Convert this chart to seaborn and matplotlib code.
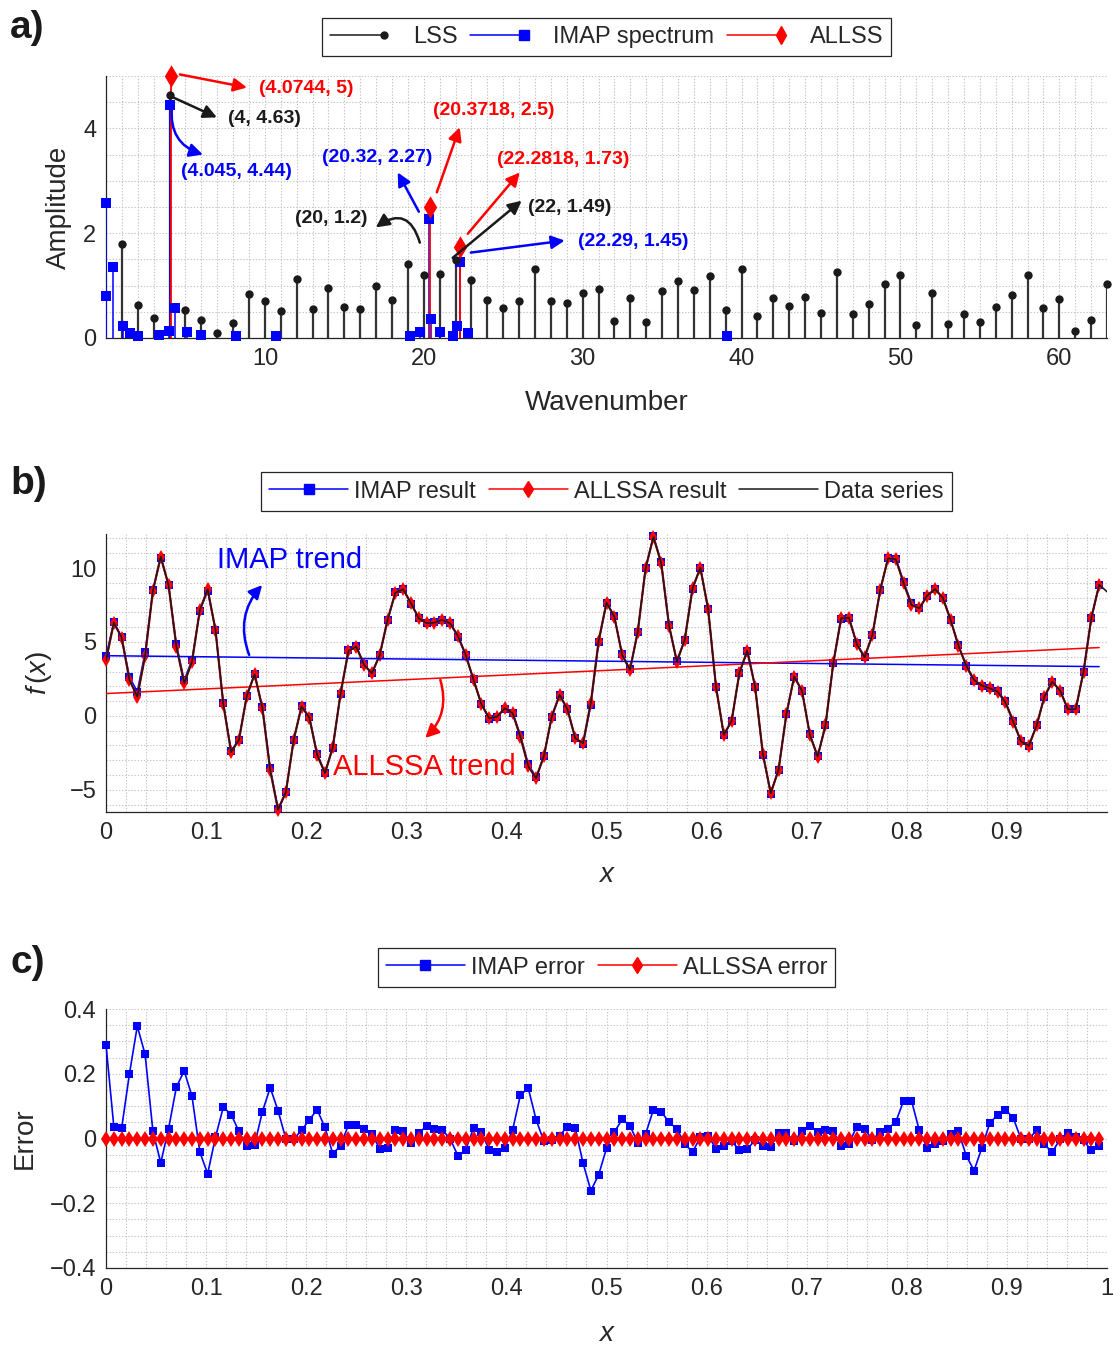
import numpy as np
import matplotlib
matplotlib.use("Agg")
import matplotlib.pyplot as plt
from matplotlib.lines import Line2D
from matplotlib.legend_handler import HandlerBase
from matplotlib.ticker import MultipleLocator, FixedLocator
import seaborn as sns

# ---------------- data ----------------
# panel a: spectra
lss_wavenumber = list(range(1, 64))
lss_amplitude = [1.79, 0.63, 0.38, 4.63, 0.54, 0.34, 0.09, 0.28, 0.84, 0.71,
                 0.52, 1.13, 0.55, 0.96, 0.60, 0.55, 0.99, 0.73, 1.41, 1.20,
                 1.22, 1.49, 1.11, 0.73, 0.58, 0.71, 1.32, 0.71, 0.66, 0.85,
                 0.94, 0.32, 0.76, 0.31, 0.89, 1.09, 0.92, 1.18, 0.54, 1.32,
                 0.42, 0.76, 0.62, 0.79, 0.47, 1.26, 0.45, 0.64, 1.03, 1.21,
                 0.25, 0.85, 0.26, 0.45, 0.30, 0.59, 0.83, 1.21, 0.57, 0.74,
                 0.14, 0.34, 1.03]
imap_wavenumber = [0.0, 0.02, 0.42, 1.09, 1.51, 2.03, 3.35, 3.98, 4.045, 4.36,
                   5.07, 5.97, 8.18, 10.7, 19.16, 19.75, 20.32, 20.46, 21.05,
                   21.84, 22.09, 22.29, 22.79, 39.1]
imap_amplitude = [2.58, 0.81, 1.35, 0.23, 0.09, 0.04, 0.06, 0.14, 4.44, 0.58,
                  0.11, 0.06, 0.04, 0.04, 0.04, 0.11, 2.27, 0.36, 0.11,
                  0.03, 0.22, 1.45, 0.09, 0.04]
allss_wavenumber = [4.0744, 20.3718, 22.2818]
allss_amplitude = [5.0, 2.5, 1.73]

# panel b: data series sampled at x = k/128 (plus the end point x = 1)
data_series = [3.75, 6.30, 5.30, 2.43, 1.30, 4.05, 8.47, 10.77, 8.83, 4.68,
               2.21, 3.67, 7.16, 8.56, 5.81, 0.79, -2.45, -1.62, 1.35, 2.82,
               0.52, -3.69, -6.35, -5.16, -1.62, 0.63, -0.11, -2.64, -3.87, -2.12,
               1.53, 4.39, 4.68, 3.45, 2.88, 4.12, 6.49, 8.33, 8.56, 7.61,
               6.60, 6.26, 6.30, 6.49, 6.26, 5.41, 4.12, 2.43, 0.79, -0.16,
               -0.05, 0.52, 0.18, -1.44, -3.42, -4.21, -2.70, -0.05, 1.42, 0.45,
               -1.51, -1.85, 0.90, 5.09, 7.66, 6.71, 4.12, 3.11, 5.70, 9.98,
               12.10, 10.32, 6.08, 3.67, 5.14, 8.63, 10.02, 7.21, 1.98, -1.28,
               -0.34, 2.93, 4.41, 1.98, -2.59, -5.23, -3.65, 0.11, 2.66, 1.69,
               -1.28, -2.75, -0.65, 3.56, 6.60, 6.64, 4.86, 3.96, 5.47, 8.51,
               10.65, 10.59, 8.96, 7.50, 7.27, 8.13, 8.58, 7.99, 6.49, 4.75,
               3.40, 2.43, 2.05, 1.87, 1.64, 0.92, -0.38, -1.73, -2.03, -0.65,
               1.31, 2.32, 1.71, 0.45, 0.45, 2.99, 6.64, 8.87]
data_series_end = 8.40

imap_error = [0.290, 0.037, 0.032, 0.200, 0.347, 0.260, 0.022, -0.075,
              0.030, 0.159, 0.209, 0.130, -0.042, -0.109, 0.004, 0.097,
              0.074, 0.022, -0.024, -0.019, 0.083, 0.157, 0.086, -0.001,
              -0.001, 0.025, 0.058, 0.089, 0.034, -0.047, -0.022, 0.042,
              0.042, 0.030, 0.014, -0.032, -0.028, 0.027, 0.022, -0.014,
              0.016, 0.040, 0.028, 0.027, -0.001, -0.053, -0.035, 0.033,
              0.020, -0.035, -0.042, -0.029, 0.027, 0.135, 0.155, 0.058,
              -0.009, -0.006, 0.009, 0.037, 0.033, -0.076, -0.161, -0.112,
              -0.030, 0.020, 0.059, 0.040, -0.014, 0.014, 0.089, 0.083,
              0.050, 0.030, -0.016, -0.042, 0.004, 0.009, -0.032, -0.024,
              -0.009, -0.035, -0.032, -0.006, -0.022, -0.025, 0.016, 0.016,
              -0.008, 0.022, 0.040, 0.020, 0.027, 0.023, -0.024, -0.016,
              0.037, 0.030, -0.004, 0.020, 0.030, 0.052, 0.117, 0.117,
              0.025, -0.030, -0.016, -0.008, 0.014, 0.022, -0.053, -0.099,
              -0.029, 0.047, 0.073, 0.089, 0.064, -0.001, -0.001, 0.025,
              -0.018, -0.043, -0.001, 0.017, 0.004, -0.006, -0.037, -0.024]
allssa_error = [0.0] * 128

trend_x = [0.0, 127 / 128]
imap_trend = [4.07, 3.33]
allssa_trend = [1.51, 4.62]

x_samples = np.arange(128) / 128.0
data_x = np.append(x_samples, 1.0)
data_y = np.append(np.array(data_series), data_series_end)
allssa_result = np.array(data_series) + np.array(allssa_error)
imap_result = np.array(data_series) + np.array(imap_error)

# ---------------- style ----------------
sns.set_theme(style="white")
plt.rcParams["font.family"] = ["Liberation Sans", "DejaVu Sans"]
plt.rcParams["mathtext.fontset"] = "custom"
plt.rcParams["mathtext.rm"] = "Liberation Sans"
plt.rcParams["mathtext.it"] = "Liberation Sans:italic"
plt.rcParams["axes.unicode_minus"] = True

BLUE = (0, 0, 1)
RED = (1, 0, 0)
SPINE = "#262626"
GRIDC = "#c4c4c4"
TICKFS = 17
LABFS = 20

fig = plt.figure(figsize=(11.14, 13.46), dpi=100)
W, H = 1114.0, 1346.0


def make_ax(top_px, bottom_px):
    return fig.add_axes([106 / W, 1 - bottom_px / H, 1001 / W, (bottom_px - top_px) / H])


def style_ax(ax):
    for s in ["top", "right"]:
        ax.spines[s].set_visible(False)
    for s in ["left", "bottom"]:
        ax.spines[s].set_color(SPINE)
        ax.spines[s].set_linewidth(0.9)
    ax.tick_params(which="major", direction="in", length=6, width=0.9,
                   color=SPINE, labelsize=TICKFS, labelcolor="#262626", pad=7)
    ax.tick_params(which="minor", length=0)
    ax.grid(which="both", color=GRIDC, linestyle=(0, (1.2, 1.6)), linewidth=0.8)
    ax.set_axisbelow(True)
    ax.set_facecolor("white")


class StemHandler(HandlerBase):
    def create_artists(self, legend, orig_handle, xdescent, ydescent,
                       width, height, fontsize, trans):
        xm = -xdescent + 0.71 * width
        y = (height - ydescent) / 2
        ln = Line2D([-xdescent, xm], [y, y], color=orig_handle.get_color(),
                    lw=orig_handle.get_linewidth(), transform=trans)
        mk = Line2D([xm], [y], ls="none", marker=orig_handle.get_marker(),
                    ms=orig_handle.get_markersize(), color=orig_handle.get_color(),
                    mec=orig_handle.get_color(), transform=trans)
        return [ln, mk]


def legend_box(ax, handles, labels, y_anchor, handler_map=None, tpad=0.25,
               cspace=0.55, hlen=3.35):
    leg = ax.legend(handles, labels, loc="lower center", bbox_to_anchor=(0.5, y_anchor),
                    ncol=len(handles), fontsize=17, frameon=True, fancybox=False,
                    edgecolor=SPINE, framealpha=1, handlelength=hlen,
                    handletextpad=tpad, columnspacing=cspace, borderpad=0.35,
                    borderaxespad=0, handler_map=handler_map)
    leg.get_frame().set_linewidth(0.9)
    return leg


# ---------------- panel a ----------------
axa = make_ax(76, 338)
style_ax(axa)
axa.vlines(lss_wavenumber, 0, lss_amplitude, color="#333333", lw=1.6, zorder=3)
axa.vlines(imap_wavenumber, 0, imap_amplitude, color=BLUE, lw=1.1, zorder=4)
axa.vlines(allss_wavenumber, 0, allss_amplitude, color=RED, lw=1.3, zorder=4)
sns.scatterplot(x=imap_wavenumber, y=imap_amplitude, ax=axa, marker="s", s=60,
                color=BLUE, edgecolor=BLUE, linewidth=0, zorder=5, clip_on=False)
sns.scatterplot(x=lss_wavenumber, y=lss_amplitude, ax=axa, marker="o", s=36,
                color="k", edgecolor="k", linewidth=0, zorder=6, clip_on=False)
sns.scatterplot(x=allss_wavenumber, y=allss_amplitude, ax=axa, marker="d", s=130,
                color=RED, edgecolor=RED, linewidth=0, zorder=7, clip_on=False)
axa.set_xlim(0, 63)
axa.set_ylim(0, 5)
axa.xaxis.set_major_locator(FixedLocator([10, 20, 30, 40, 50, 60]))
axa.xaxis.set_minor_locator(MultipleLocator(1))
axa.yaxis.set_major_locator(FixedLocator([0, 2, 4]))
axa.yaxis.set_minor_locator(MultipleLocator(0.5))
axa.set_xticklabels(["10", "20", "30", "40", "50", "60"])
axa.set_yticklabels(["0", "2", "4"])
axa.set_xlabel("Wavenumber", fontsize=LABFS, color="#262626")
axa.set_ylabel("Amplitude", fontsize=LABFS, color="#262626")
axa.xaxis.set_label_coords(0.5, -0.199)
axa.yaxis.set_label_coords(-0.034, 0.5)

arrow_kw = dict(arrowstyle="-|>", lw=1.8, mutation_scale=20, shrinkA=0, shrinkB=0)
annos = [
    # (start, end, color, connection)
    ((4.65, 5.03), (8.87, 4.78), RED, "arc3"),
    ((4.09, 4.61), (6.98, 4.21), "k", "arc3"),
    ((4.15, 4.40), (6.10, 3.50), BLUE, "arc3,rad=0.4"),
    ((19.69, 2.41), (18.36, 3.16), BLUE, "arc3"),
    ((19.75, 1.82), (16.98, 2.11), "k", "arc3,rad=0.7"),
    ((20.82, 2.78), (22.26, 4.02), RED, "arc3"),
    ((22.77, 1.99), (26.04, 3.16), RED, "arc3"),
    ((21.82, 1.53), (26.16, 2.62), "k", "arc3"),
    ((22.96, 1.63), (28.87, 1.86), BLUE, "arc3"),
]
for start, end, col, conn in annos:
    axa.annotate("", xy=end, xytext=start,
                 arrowprops=dict(color=col, connectionstyle=conn, **arrow_kw),
                 annotation_clip=False, zorder=8)

labels_a = [
    ("(4.0744, 5)", 9.62, 4.77, RED, "left"),
    ("(4, 4.63)", 7.67, 4.19, "k", "left"),
    ("(4.045, 4.44)", 4.72, 3.18, BLUE, "left"),
    ("(20.32, 2.27)", 17.05, 3.44, BLUE, "center"),
    ("(20, 1.2)", 14.18, 2.28, "k", "center"),
    ("(20.3718, 2.5)", 24.4, 4.34, RED, "center"),
    ("(22.2818, 1.73)", 28.77, 3.41, RED, "center"),
    ("(22, 1.49)", 29.2, 2.49, "k", "center"),
    ("(22.29, 1.45)", 29.69, 1.84, BLUE, "left"),
]
for txt, xx, yy, col, ha in labels_a:
    axa.text(xx, yy, txt, color=col, fontsize=14, fontweight="bold",
             ha=ha, va="center", zorder=9)

ha_lss = Line2D([], [], color="k", lw=1.1, marker="o", ms=5)
ha_imap = Line2D([], [], color=BLUE, lw=1.1, marker="s", ms=6.5)
ha_all = Line2D([], [], color=RED, lw=1.1, marker="d", ms=9)
legend_box(axa, [ha_lss, ha_imap, ha_all], ["LSS", "IMAP spectrum", "ALLSS"], 1.076,
           handler_map={Line2D: StemHandler()}, tpad=0.3, cspace=0.55, hlen=3.2)

# ---------------- panel b ----------------
axb = make_ax(534, 812)
style_ax(axb)
sns.lineplot(x=x_samples, y=imap_result, ax=axb, color=BLUE, lw=1.1, marker="s",
             markersize=6, markeredgecolor=BLUE, markeredgewidth=0, zorder=3,
             clip_on=False)
sns.lineplot(x=x_samples, y=allssa_result, ax=axb, color=RED, lw=1.6, marker="d",
             markersize=7, markeredgecolor=RED, markeredgewidth=0, zorder=4,
             clip_on=False)
sns.lineplot(x=data_x, y=data_y, ax=axb, color="k", lw=1.2, zorder=5)
sns.lineplot(x=trend_x, y=imap_trend, ax=axb, color=BLUE, lw=1.1, zorder=4)
sns.lineplot(x=trend_x, y=allssa_trend, ax=axb, color=RED, lw=1.1, zorder=4)
axb.set_xlim(0, 1)
axb.set_ylim(-6.5, 12.3)
xt = [0, 0.1, 0.2, 0.3, 0.4, 0.5, 0.6, 0.7, 0.8, 0.9]
axb.xaxis.set_major_locator(FixedLocator(xt))
axb.set_xticklabels(["0", "0.1", "0.2", "0.3", "0.4", "0.5", "0.6", "0.7", "0.8", "0.9"])
axb.xaxis.set_minor_locator(MultipleLocator(0.02))
axb.yaxis.set_major_locator(FixedLocator([-5, 0, 5, 10]))
axb.set_yticklabels(["\u22125", "0", "5", "10"])
axb.yaxis.set_minor_locator(MultipleLocator(1))
axb.set_xlabel("$x$", fontsize=LABFS, color="#262626")
axb.set_ylabel("$f\\,(x)$", fontsize=LABFS, color="#262626")
axb.xaxis.set_label_coords(0.5, -0.18)
axb.yaxis.set_label_coords(-0.052, 0.5)

axb.text(0.111, 10.54, "IMAP trend", color=BLUE, fontsize=21, ha="left", va="center")
axb.text(0.227, -3.45, "ALLSSA trend", color=RED, fontsize=21, ha="left", va="center")
axb.annotate("", xy=(0.156, 8.85), xytext=(0.143, 4.12),
             arrowprops=dict(color=BLUE, connectionstyle="arc3,rad=-0.3", **arrow_kw))
axb.annotate("", xy=(0.319, -1.49), xytext=(0.334, 2.43),
             arrowprops=dict(color=RED, connectionstyle="arc3,rad=-0.3", **arrow_kw))

hb1 = Line2D([], [], color=BLUE, lw=1.1, marker="s", ms=6.5)
hb2 = Line2D([], [], color=RED, lw=1.1, marker="d", ms=8)
hb3 = Line2D([], [], color="k", lw=1.1)
legend_box(axb, [hb1, hb2, hb3], ["IMAP result", "ALLSSA result", "Data series"], 1.083)

# ---------------- panel c ----------------
axc = make_ax(1009, 1268)
style_ax(axc)
sns.lineplot(x=x_samples, y=imap_error, ax=axc, color=BLUE, lw=1.2, marker="s",
             markersize=6, markeredgecolor=BLUE, markeredgewidth=0, zorder=3,
             clip_on=False)
sns.lineplot(x=x_samples, y=allssa_error, ax=axc, color=RED, lw=1.2, marker="d",
             markersize=8, markeredgecolor=RED, markeredgewidth=0, zorder=4,
             clip_on=False)
axc.set_xlim(0, 1)
axc.set_ylim(-0.4, 0.4)
xt2 = [0, 0.1, 0.2, 0.3, 0.4, 0.5, 0.6, 0.7, 0.8, 0.9, 1.0]
axc.xaxis.set_major_locator(FixedLocator(xt2))
axc.set_xticklabels(["0", "0.1", "0.2", "0.3", "0.4", "0.5", "0.6", "0.7", "0.8", "0.9", "1"])
axc.xaxis.set_minor_locator(MultipleLocator(0.02))
axc.yaxis.set_major_locator(FixedLocator([-0.4, -0.2, 0, 0.2, 0.4]))
axc.set_yticklabels(["\u22120.4", "\u22120.2", "0", "0.2", "0.4"])
axc.yaxis.set_minor_locator(MultipleLocator(0.05))
axc.set_xlabel("$x$", fontsize=LABFS, color="#262626")
axc.set_ylabel("Error", fontsize=LABFS, color="#262626")
axc.xaxis.set_label_coords(0.5, -0.205)
axc.yaxis.set_label_coords(-0.068, 0.5)

hc1 = Line2D([], [], color=BLUE, lw=1.1, marker="s", ms=6.5)
hc2 = Line2D([], [], color=RED, lw=1.1, marker="d", ms=8)
legend_box(axc, [hc1, hc2], ["IMAP error", "ALLSSA error"], 1.085)

# panel letters
for lab, ypx in [("a)", 28), ("b)", 484), ("c)", 963)]:
    fig.text(10 / W, 1 - ypx / H, lab, fontsize=28, fontweight="bold",
             ha="left", va="center", color="k")

fig.savefig("out.png", dpi=100, facecolor="white")
